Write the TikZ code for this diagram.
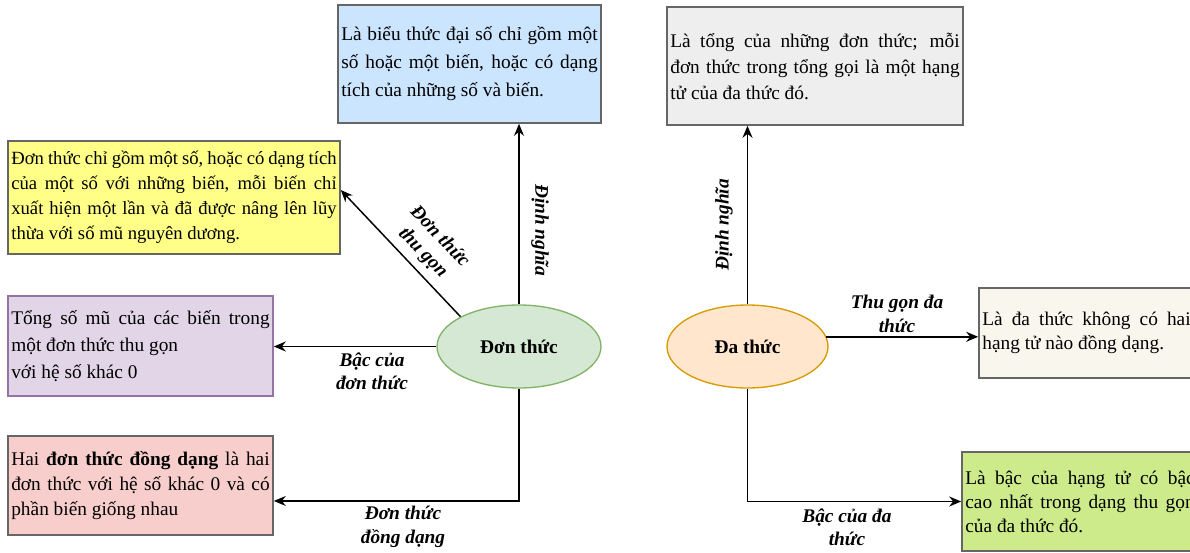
\documentclass[tikz,border=0pt]{standalone}
\usepackage{fontspec}
\setmainfont{Liberation Serif}
\usetikzlibrary{arrows.meta,calc,shapes.geometric}

\definecolor{boxline}{HTML}{666666}
\definecolor{bluefill}{HTML}{CCE5FF}
\definecolor{yellowfill}{HTML}{FFFF88}
\definecolor{purplefill}{HTML}{E1D5E7}
\definecolor{purpleline}{HTML}{9673A6}
\definecolor{redfill}{HTML}{F8CECC}
\definecolor{grayfill}{HTML}{EEEEEE}
\definecolor{creamfill}{HTML}{F9F7ED}
\definecolor{greenfill}{HTML}{CDEB8B}
\definecolor{monofill}{HTML}{D5E8D4}
\definecolor{monoline}{HTML}{82B366}
\definecolor{polyfill}{HTML}{FFE6CC}
\definecolor{polyline}{HTML}{D79B00}

\tikzset{
  box/.style={draw=boxline, line width=1.2pt, align=justify, inner xsep=2.5pt,
    inner ysep=0pt, anchor=center},
  conn/.style={line width=1.1pt, -{Stealth[length=9pt,width=7.5pt]}},
  lbl/.style={font=\fontsize{14.5}{17.5}\selectfont\bfseries\itshape, align=center,
    inner sep=0pt},
  topic/.style={ellipse, line width=1pt, inner sep=0pt,
    font=\fontsize{14.5}{16}\selectfont\bfseries}
}

\begin{document}
\begin{tikzpicture}[x=0.75pt, y=-0.75pt]
\useasboundingbox (0,0) rectangle (1190,553);
\clip (0,0) rectangle (1190,553);

% --- central topics
\node[topic, draw=monoline, fill=monofill, minimum width=123pt, minimum height=62.25pt]
  (mono) at (519,346.5) {Đơn thức};
\node[topic, draw=polyline, fill=polyfill, minimum width=120.75pt, minimum height=62.25pt]
  (poly) at (747.5,346.5) {Đa thức};

% --- boxes around "Đơn thức"
\node[box, fill=bluefill, minimum width=197.25pt, minimum height=88.5pt, text width=192.25pt,
  font=\fontsize{14.5}{21}\selectfont]
  (def1) at (469.5,64) {Là biểu thức đại số chỉ gồm một\linebreak số hoặc một biến, hoặc có dạng\linebreak tích của những số và biến.};

\node[box, fill=yellowfill, minimum width=249pt, minimum height=84.75pt, text width=244pt,
  font=\fontsize{14}{18.75}\selectfont]
  (reduced) at (174,197.5) {Đơn thức chỉ gồm một số, hoặc có dạng tích\linebreak của một số với những biến, mỗi biến chỉ\linebreak xuất hiện một lần và đã được nâng lên lũy\linebreak thừa với số mũ nguyên dương.};

\node[box, draw=purpleline, fill=purplefill, minimum width=198.75pt, minimum height=75pt, text width=193.75pt,
  font=\fontsize{14.5}{20.5}\selectfont]
  (degree1) at (140.5,346) {Tổng số mũ của các biến trong\linebreak một đơn thức thu gọn\newline với hệ số khác 0};

\node[box, fill=redfill, minimum width=198.75pt, minimum height=74.25pt, text width=193.75pt,
  font=\fontsize{14.5}{19}\selectfont]
  (similar) at (140.5,485.5) {Hai \textbf{đơn thức đồng dạng} là hai\linebreak đơn thức với hệ số khác 0 và có\linebreak phần biến giống nhau};

% --- boxes around "Đa thức"
\node[box, fill=grayfill, minimum width=222pt, minimum height=88.5pt, text width=217pt,
  font=\fontsize{14.5}{19.5}\selectfont]
  (def2) at (815,66) {Là tổng của những đơn thức; mỗi\linebreak đơn thức trong tổng gọi là một hạng\linebreak tử của đa thức đó.};

\node[box, fill=creamfill, minimum width=161.25pt, minimum height=67.5pt, text width=156.25pt,
  font=\fontsize{14.5}{18}\selectfont]
  (reduced2) at (1086.5,333) {Là đa thức không có hai\linebreak hạng tử nào đồng dạng.};

\node[box, fill=greenfill, minimum width=177pt, minimum height=74.25pt, text width=172pt,
  font=\fontsize{14.5}{18}\selectfont]
  (degree2) at (1080,501.5) {Là bậc của hạng tử có bậc\linebreak cao nhất trong dạng thu gọn\linebreak của đa thức đó.};

% --- connectors from "Đơn thức"
\draw[conn] (mono.north) -- (mono.north |- def1.south);
\draw[conn] (mono.153) -- ([yshift=5.6pt]reduced.east);
\draw[conn] (mono.west) -- (mono.west -| degree1.east);
\draw[conn] (mono.south) |- ([yshift=-11.6pt]similar.east);

% --- connectors from "Đa thức"
\draw[conn] (poly.north) -- (poly.north |- def2.south);
\draw[conn] (poly.7) -- (poly.7 -| reduced2.west);
\draw[conn] (poly.south) |- (degree2.west);

% --- connector labels
\node[lbl, rotate=-90] (l1) at (540,230) {Định nghĩa};
\node[lbl, rotate=-46] (l2) at (431,245) {Đơn thức\\thu gọn};
\node[lbl] (l3) at (372,371) {Bậc của\\đơn thức};
\node[lbl] (l4) at (403,527) {Đơn thức\\đồng dạng};
\node[lbl, rotate=90] (l5) at (724,225) {Định nghĩa};
\node[lbl] (l6) at (897,314) {Thu gọn đa\\thức};
\node[lbl] (l7) at (847,527) {Bậc của đa\\thức};
\end{tikzpicture}
\end{document}
